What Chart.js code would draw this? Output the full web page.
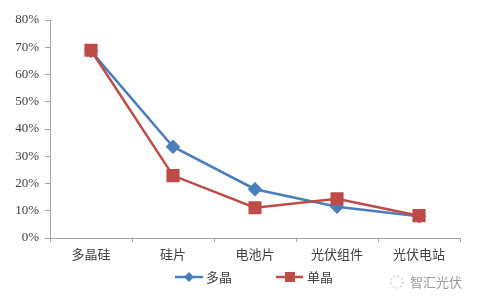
<!DOCTYPE html>
<html>
<head>
<meta charset="utf-8">
<script src="https://cdn.jsdelivr.net/npm/chart.js@4"></script>
<style>
  html, body { margin: 0; padding: 0; background: #ffffff; }
  canvas { display: block; }
</style>
</head>
<body>
<canvas id="chart" width="481" height="307"></canvas>
<script>
// data (percent)
const categories = ['多晶硅', '硅片', '电池片', '光伏组件', '光伏电站'];
const multiValues = [68.6, 33.5, 17.9, 11.5, 8.0];   // 多晶
const monoValues = [68.9, 22.9, 11.1, 14.4, 8.2];    // 单晶
const yTicks = [0, 10, 20, 30, 40, 50, 60, 70, 80];

const blue = '#4a7ebb';
const red = '#be4b48';
const axisColor = '#a6a6a6';
const cjkFont = '"Noto Sans CJK SC", "Noto Sans", sans-serif';

// legend + watermark drawn by hand, Excel style (line with marker)
const extras = {
    id: 'extras',
    beforeDraw(chart) {
        const ctx = chart.ctx;
        ctx.save();
        ctx.fillStyle = '#ffffff';
        ctx.fillRect(0, 0, chart.width, chart.height);
        ctx.restore();
    },
    afterDraw(chart) {
        const ctx = chart.ctx;
        const y = 277;
        ctx.save();
        ctx.lineWidth = 2.5;

        // 多晶
        ctx.strokeStyle = blue;
        ctx.beginPath(); ctx.moveTo(175, y); ctx.lineTo(203, y); ctx.stroke();
        ctx.fillStyle = blue;
        ctx.beginPath();
        ctx.moveTo(189, y - 5); ctx.lineTo(194, y); ctx.lineTo(189, y + 5); ctx.lineTo(184, y);
        ctx.closePath(); ctx.fill();

        // 单晶
        ctx.strokeStyle = red;
        ctx.beginPath(); ctx.moveTo(276, y); ctx.lineTo(303, y); ctx.stroke();
        ctx.fillStyle = red;
        ctx.fillRect(285, y - 5, 10, 10);

        ctx.font = '13px ' + cjkFont;
        ctx.fillStyle = '#404040';
        ctx.textBaseline = 'middle';
        ctx.fillText('多晶', 206, y);
        ctx.fillText('单晶', 307, y);

        // watermark
        ctx.strokeStyle = '#b8b8b8';
        ctx.lineWidth = 1;
        ctx.setLineDash([2, 2]);
        ctx.beginPath(); ctx.arc(397, 282, 6, 0, Math.PI * 2); ctx.stroke();
        ctx.setLineDash([]);
        ctx.fillStyle = '#9a9a9a';
        ctx.fillText('智汇光伏', 410, 282);
        ctx.restore();
    }
};

new Chart(document.getElementById('chart').getContext('2d'), {
    type: 'line',
    data: {
        labels: categories,
        datasets: [
            {
                label: '多晶',
                data: multiValues,
                borderColor: blue,
                backgroundColor: blue,
                borderWidth: 2.5,
                pointStyle: 'rectRot',
                pointRadius: 5.5,
                pointHoverRadius: 5.5,
                tension: 0,
                order: 1
            },
            {
                label: '单晶',
                data: monoValues,
                borderColor: red,
                backgroundColor: red,
                borderWidth: 2.5,
                pointStyle: 'rect',
                pointRadius: 7.5,
                pointHoverRadius: 7.5,
                tension: 0,
                order: 0
            }
        ]
    },
    options: {
        responsive: false,
        animation: false,
        layout: { padding: { left: 0, right: 21, top: 20, bottom: 0 } },
        plugins: {
            legend: { display: false },
            tooltip: { enabled: false }
        },
        scales: {
            x: {
                offset: true,
                grid: { drawOnChartArea: false, drawTicks: true, tickLength: 4, color: axisColor, offset: true },
                border: { color: axisColor, width: 1 },
                ticks: {
                    color: '#404040',
                    font: { family: cjkFont, size: 13 },
                    padding: 4,
                    maxRotation: 0
                },
                afterFit(scale) { scale.height = 69; }
            },
            y: {
                min: 0,
                max: 80,
                afterBuildTicks(scale) { scale.ticks = yTicks.map(v => ({ value: v })); },
                grid: { drawOnChartArea: false, drawTicks: true, tickLength: 5, color: axisColor },
                border: { color: axisColor, width: 1 },
                ticks: {
                    color: '#404040',
                    font: { family: '"Liberation Serif", "Times New Roman", serif', size: 13 },
                    padding: 6,
                    callback: v => v + '%'
                },
                afterFit(scale) { scale.width = 50; }
            }
        }
    },
    plugins: [extras]
});
</script>
</body>
</html>
